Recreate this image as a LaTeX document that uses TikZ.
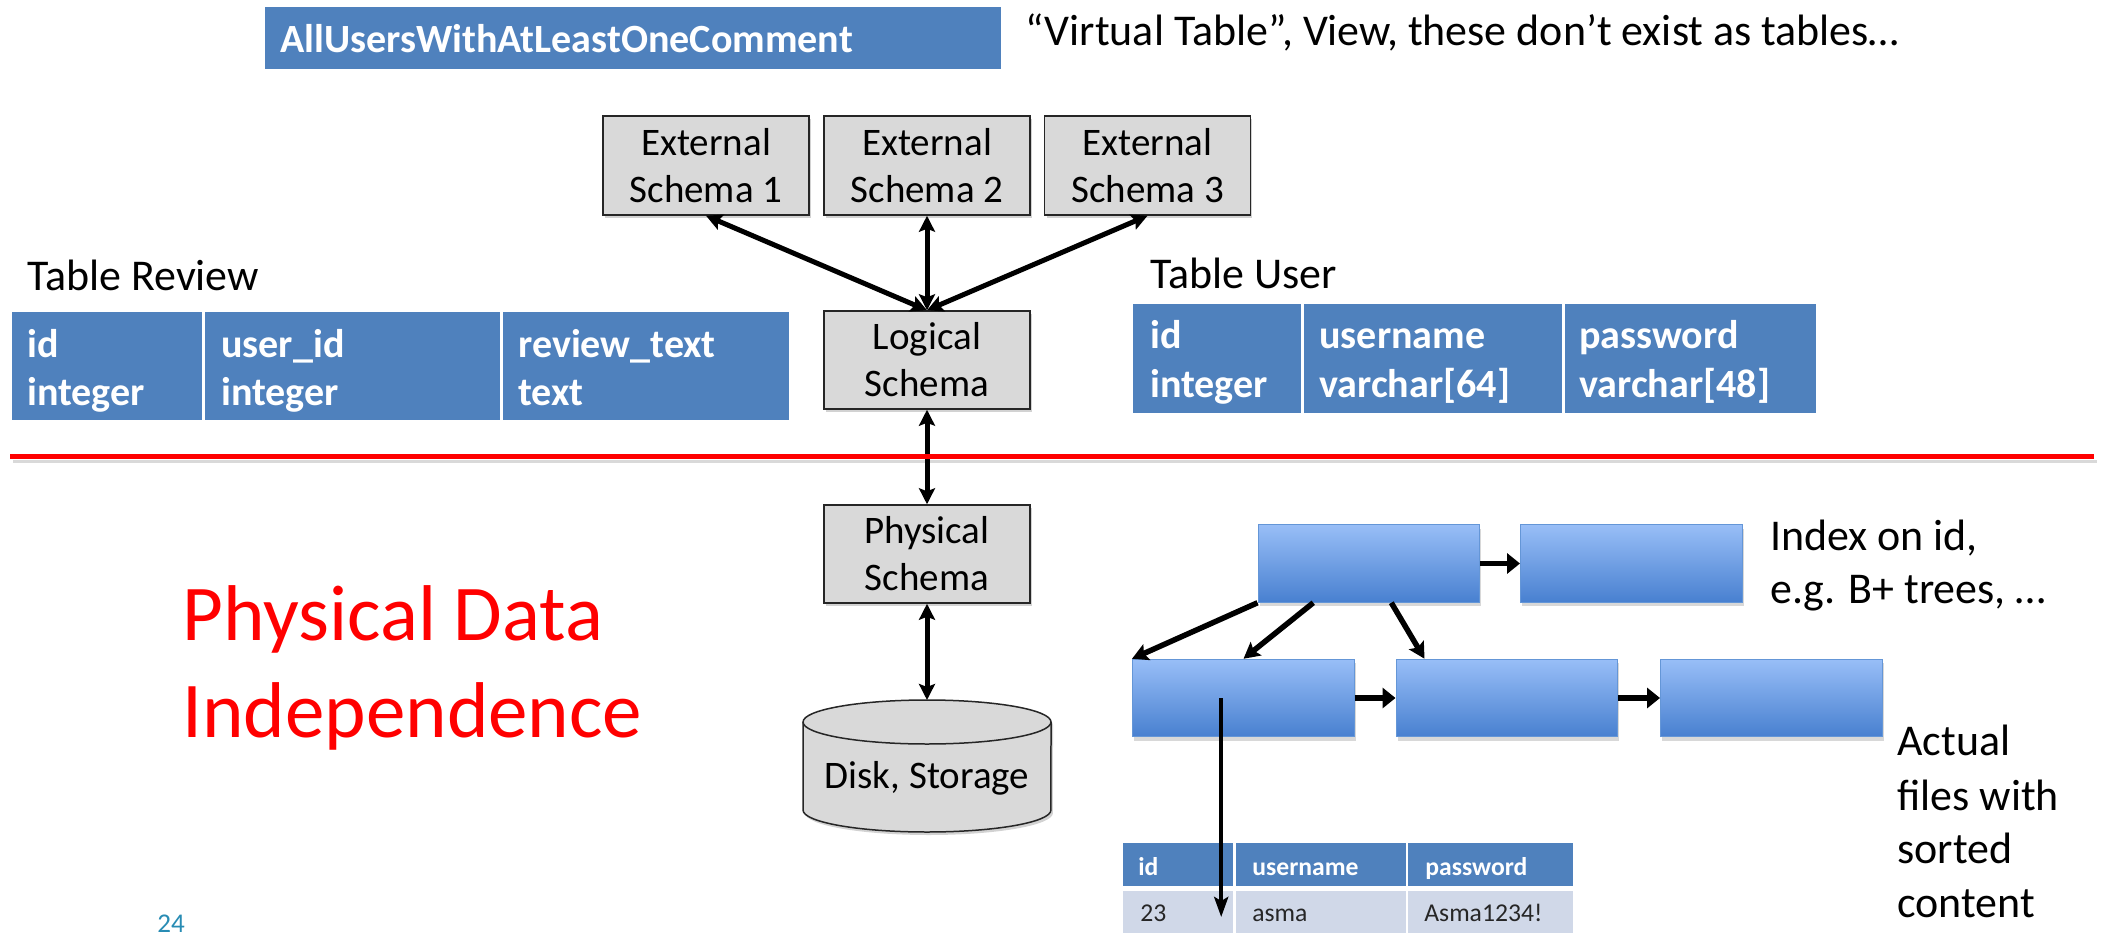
\documentclass[tikz,border=0pt]{standalone}
\usepackage{fontspec}
\setmainfont{Carlito}
\usetikzlibrary{arrows.meta,shadows,calc}
\definecolor{tblue}{RGB}{79,129,189}
\definecolor{tlight}{RGB}{208,216,232}
\definecolor{sgray}{RGB}{217,217,217}
\definecolor{btop}{RGB}{152,190,247}
\definecolor{bbot}{RGB}{72,128,208}
\definecolor{bedge}{RGB}{100,150,215}
\definecolor{pagenum}{RGB}{40,140,180}
\newcommand\fs[2]{\fontsize{#1}{#2}\selectfont}
\begin{document}
\begin{tikzpicture}[x=0.02cm,y=-0.02cm,
  schemabox/.style={draw=black!85, line width=0.03cm, fill=sgray, align=center, inner sep=0,
    minimum width=4.12cm, font=\fs{22.2pt}{26.7pt},
    drop shadow={shadow xshift=0.04cm, shadow yshift=-0.06cm, opacity=0.35}},
  cell/.style={fill=tblue, inner sep=0},
  lcell/.style={fill=tlight, inner sep=0},
  celltext/.style={anchor=base west, inner sep=0, text=white, font=\bfseries\fs{22.8pt}{27pt}},
  smallhead/.style={anchor=base west, inner sep=0, text=white, font=\bfseries\fs{14.6pt}{17pt}},
  smalldata/.style={anchor=base west, inner sep=0, text=black!85, font=\fs{14.6pt}{17pt}},
  lbl/.style={anchor=base west, inner sep=0, font=\fs{25pt}{30pt}},
  ibox/.style={draw=bedge, line width=0.02cm, top color=btop, bottom color=bbot,
    minimum width=4.44cm, minimum height=1.55cm, inner sep=0,
    drop shadow={shadow xshift=0.03cm, shadow yshift=-0.08cm, opacity=0.3}},
  dblarrow/.style={{Stealth[length=0.32cm,width=0.32cm,inset=0.06cm]}-{Stealth[length=0.32cm,width=0.32cm,inset=0.06cm]}, line width=0.1cm},
  iarrow/.style={-{Triangle[length=0.26cm,width=0.4cm]}, line width=0.11cm},
  tarrow/.style={-{Stealth[length=0.32cm,width=0.34cm,inset=0.06cm]}, line width=0.11cm},
  varrow/.style={-{Stealth[length=0.4cm,width=0.28cm,inset=0.08cm]}, line width=0.08cm}
]
\useasboundingbox (0,0) rectangle (2106,943);
\fill[white] (0,0) rectangle (2106,943);

% Top banner and caption
\node[cell, minimum width=14.72cm, minimum height=1.24cm] (banner) at (633,38) {};
\node[celltext] (bannertext) at (280,52) {AllUsersWithAtLeastOneComment};
\node[lbl] (virtual) at (1025,45) {“Virtual Table”, View, these don’t exist as tables…};

% Schema boxes
\node[schemabox, minimum height=1.98cm] (ext1) at (706,165.5) {External\\Schema 1};
\node[schemabox, minimum height=1.98cm] (ext2) at (927,165.5) {External\\Schema 2};
\node[schemabox, minimum height=1.98cm] (ext3) at (1147.5,165.5) {External\\Schema 3};
\node[schemabox, minimum height=1.96cm] (logical) at (927,360) {Logical\\Schema};
\node[schemabox, minimum height=1.96cm] (physical) at (927,554) {Physical\\Schema};

% Disk cylinder
\path[draw=black!85, line width=0.03cm, fill=sgray,
  drop shadow={shadow xshift=0.04cm, shadow yshift=-0.06cm, opacity=0.35}]
  (803,722) -- (803,810) arc[start angle=180, end angle=360, x radius=2.48cm, y radius=0.44cm]
  -- (1051,722) arc[start angle=0, end angle=180, x radius=2.48cm, y radius=0.44cm] -- cycle;
\draw[black!85, line width=0.03cm] (803,722) arc[start angle=180, end angle=360, x radius=2.48cm, y radius=0.44cm];
\coordinate (disktop) at (927,700);
\node[inner sep=0, font=\fs{22.2pt}{26.7pt}] (disk) at (927,778) {Disk, Storage};

% Schema arrows
\draw[dblarrow] (ext1.south) -- (logical.north);
\draw[dblarrow] (ext2.south) -- (logical.north);
\draw[dblarrow] (ext3.south) -- (logical.north);
\draw[dblarrow] (logical.south) -- (physical.north);
\draw[dblarrow] (physical.south) -- (disktop);

% Table Review
\node[lbl] (trlabel) at (27,290) {Table Review};
\node[cell, minimum width=3.8cm, minimum height=2.16cm] (rv1) at (107,366) {};
\node[cell, minimum width=5.9cm, minimum height=2.16cm] (rv2) at (352.5,366) {};
\node[cell, minimum width=5.72cm, minimum height=2.16cm] (rv3) at (646,366) {};
\node[celltext] (rv1a) at (27,357) {id};
\node[celltext] (rv1b) at (27,405) {integer};
\node[celltext] (rv2a) at (221,357) {user\_id};
\node[celltext] (rv2b) at (221,405) {integer};
\node[celltext] (rv3a) at (518,357) {review\_text};
\node[celltext] (rv3b) at (518,405) {text};

% Table User
\node[lbl] (tulabel) at (1150,288) {Table User};
\node[cell, minimum width=3.36cm, minimum height=2.18cm] (us1) at (1217,358.5) {};
\node[cell, minimum width=5.16cm, minimum height=2.18cm] (us2) at (1433,358.5) {};
\node[cell, minimum width=5.02cm, minimum height=2.18cm] (us3) at (1690.5,358.5) {};
\node[celltext] (us1a) at (1150,348) {id};
\node[celltext] (us1b) at (1150,397) {integer};
\node[celltext] (us2a) at (1319,348) {username};
\node[celltext] (us2b) at (1319,397) {varchar[64]};
\node[celltext] (us3a) at (1579,348) {password};
\node[celltext] (us3b) at (1579,397) {varchar[48]};

% Red separator
\draw[black, opacity=0.15, line width=0.06cm] (13,461) -- (2097,461);
\draw[red, line width=0.1cm] (10,456) -- (2094,456);

% Physical Data Independence
\node[anchor=base west, inner sep=0, text=red, font=\fs{45pt}{55pt}] (pdi1) at (182,640) {Physical Data};
\node[anchor=base west, inner sep=0, text=red, font=\fs{45pt}{55pt}] (pdi2) at (182,737) {Independence};
\node[anchor=base west, inner sep=0, text=pagenum, font=\fs{15.4pt}{18pt}] (pnum) at (157,932) {24};

% Index boxes
\node[ibox] (A) at (1369,563.5) {};
\node[ibox] (B) at (1631.5,563.5) {};
\node[ibox] (C) at (1243.5,698) {};
\node[ibox] (D) at (1507,698) {};
\node[ibox] (E) at (1771.5,698) {};
\draw[iarrow] (A) -- (B);
\draw[iarrow] (C) -- (D);
\draw[iarrow] (D) -- (E);
\draw[tarrow] (A.south west) -- (C.north west);
\draw[tarrow] ($(A.south west)!0.25!(A.south east)$) -- (C.north);
\draw[tarrow] ($(A.south west)!0.6!(A.south east)$) -- ($(D.north west)!0.13!(D.north east)$);

\node[lbl] (idx1) at (1770,550) {Index on id,};
\node[lbl] (idx2) at (1770,603) {e.g. B+ trees, …};
\node[lbl] (act1) at (1897,755) {Actual};
\node[lbl] (act2) at (1897,810) {files with};
\node[lbl] (act3) at (1897,863) {sorted};
\node[lbl] (act4) at (1897,917) {content};

% Small table
\node[cell, minimum width=2.2cm, minimum height=0.86cm] (h1) at (1178,864.5) {};
\node[cell, minimum width=3.4cm, minimum height=0.86cm] (h2) at (1321,864.5) {};
\node[cell, minimum width=3.3cm, minimum height=0.86cm] (h3) at (1490.5,864.5) {};
\node[lcell, minimum width=2.2cm, minimum height=0.84cm] (d1) at (1178,912) {};
\node[lcell, minimum width=3.4cm, minimum height=0.84cm] (d2) at (1321,912) {};
\node[lcell, minimum width=3.3cm, minimum height=0.84cm] (d3) at (1490.5,912) {};
\node[smallhead] (h1t) at (1138,875) {id};
\node[smallhead] (h2t) at (1252,875) {username};
\node[smallhead] (h3t) at (1425,875) {password};
\node[smalldata] (d1t) at (1140,921) {23};
\node[smalldata] (d2t) at (1252,921) {asma};
\node[smalldata] (d3t) at (1424,921) {Asma1234!};

% Pointer from leaf to record
\coordinate (vstart) at ($(C.west)!0.4!(C.east)$);
\coordinate (vend) at ($(vstart |- d1.center)+(0,5)$);
\draw[varrow] (vstart) -- (vend);
\end{tikzpicture}
\end{document}
